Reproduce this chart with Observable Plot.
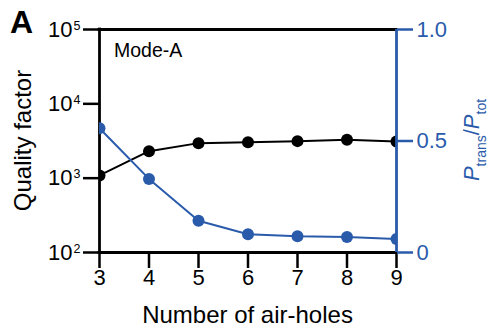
<!DOCTYPE html>
<html>
<head>
<meta charset="utf-8">
<script src="https://cdn.jsdelivr.net/npm/d3@7"></script>
<script src="https://cdn.jsdelivr.net/npm/@observablehq/plot@0.6"></script>
<style>
  body { margin: 0; background: #fff; }
  #chart { position: relative; width: 492px; height: 335px; }
  #chart svg { position: absolute; left: 0; top: 0; }
  #chart g[aria-label$="tick label"] { font-size: 22px; }
</style>
</head>
<body>
<div id="chart"></div>
<script>
// Number of air-holes on each side of the cavity
const airHoles = [3, 4, 5, 6, 7, 8, 9];
// Quality factor (left, log axis)
const qualityFactor = [1090, 2310, 2960, 3050, 3150, 3290, 3120];
// Transmitted / total power (right, linear axis)
const powerRatio = [0.557, 0.330, 0.142, 0.082, 0.073, 0.070, 0.061];

const qTicks = [1e2, 1e3, 1e4, 1e5];
const ratioTicks = [0, 0.5, 1];
const ratioTickLabels = ["0", "0.5", "1.0"];

const panelLetter = "A";
const modeLabel = "Mode-A";
const xLabel = "Number of air-holes";
const yLabel = "Quality factor";

const BLUE = "#2a5bab";
const FONT = "'Liberation Sans', Arial, Helvetica, sans-serif";
const W = 492, H = 335;
const margins = { marginLeft: 99, marginRight: 96, marginTop: 29, marginBottom: 83 };

const rows = airHoles.map((n, i) => ({ n, q: qualityFactor[i], r: powerRatio[i] }));

// Left layer: quality factor on a log scale, black frame and bottom axis
const left = Plot.plot({
  width: W, height: H, ...margins,
  style: { fontFamily: FONT, fontSize: "22px", background: "transparent", overflow: "visible", color: "black" },
  x: { domain: [3, 9] },
  y: { type: "log", domain: [1e2, 1e5] },
  marks: [
    Plot.axisX({ ticks: airHoles, tickSize: 16, tickPadding: 1, fontSize: 22, label: null, strokeWidth: 2.5,
                 tickFormat: d => String(d) }),
    Plot.axisY({ ticks: qTicks, tickSize: 16, tickPadding: 3, fontSize: 22, label: null, strokeWidth: 2.5,
                 tickFormat: d => String(Math.round(Math.log10(d))) }),
    Plot.ruleX([3], { stroke: "black", strokeWidth: 2.8, strokeLinecap: "square" }),
    Plot.ruleY([1e2, 1e5], { stroke: "black", strokeWidth: 2.8, strokeLinecap: "square" }),
    Plot.line(rows, { x: "n", y: "q", stroke: "black", strokeWidth: 2, clip: true }),
    Plot.dot(rows, { x: "n", y: "q", r: 6, fill: "black", clip: true })
  ]
});

// Power-of-ten tick labels: "10" with a raised exponent
d3.select(left).selectAll('g[aria-label="y-axis tick label"] text').each(function () {
  const exp = this.textContent;
  const t = d3.select(this);
  t.text(null);
  t.append("tspan").text("10");
  t.append("tspan").attr("font-size", 12.5).attr("dy", -7).attr("dx", 1).text(exp);
});

const lsvg = d3.select(left);
lsvg.append("text")
  .attr("x", 10).attr("y", 33).attr("text-anchor", "start")
  .attr("font-size", 32).attr("font-weight", "bold").attr("fill", "black")
  .text(panelLetter);
lsvg.append("text")
  .attr("x", 114).attr("y", 56.5).attr("text-anchor", "start")
  .attr("font-size", 19.5).attr("fill", "black")
  .text(modeLabel);
lsvg.append("text")
  .attr("x", 247.5).attr("y", 323)
  .attr("text-anchor", "middle").attr("font-size", 24).attr("fill", "black")
  .text(xLabel);
lsvg.append("text")
  .attr("transform", "translate(31,140.5) rotate(-90)")
  .attr("text-anchor", "middle").attr("font-size", 24).attr("fill", "black")
  .text(yLabel);

// Right layer: power ratio on a linear scale, blue right axis
const right = Plot.plot({
  width: W, height: H, ...margins,
  style: { fontFamily: FONT, fontSize: "22px", background: "transparent", overflow: "visible", color: BLUE },
  x: { domain: [3, 9], axis: null },
  y: { domain: [0, 1] },
  marks: [
    Plot.axisY({ anchor: "right", ticks: ratioTicks, tickSize: 16, tickPadding: 4, fontSize: 22, label: null, strokeWidth: 2.5,
                 tickFormat: d => ratioTickLabels[ratioTicks.indexOf(d)] }),
    Plot.ruleX([9], { stroke: BLUE, strokeWidth: 2.8 }),
    Plot.line(rows, { x: "n", y: "r", stroke: BLUE, strokeWidth: 2, clip: true }),
    Plot.dot(rows, { x: "n", y: "r", r: 6, fill: BLUE, clip: true })
  ]
});

const rlabel = d3.select(right).append("text")
  .attr("transform", "translate(479,140) rotate(-90)")
  .attr("text-anchor", "middle").attr("font-size", 22).attr("fill", BLUE);
rlabel.append("tspan").attr("font-style", "italic").text("P");
rlabel.append("tspan").attr("font-size", 14).attr("dy", 7).text("trans");
rlabel.append("tspan").attr("dy", -7).text("/");
rlabel.append("tspan").attr("font-style", "italic").text("P");
rlabel.append("tspan").attr("font-size", 14).attr("dy", 7).text("tot");

const chart = document.getElementById("chart");
chart.appendChild(left);
chart.appendChild(right);
</script>
</body>
</html>
